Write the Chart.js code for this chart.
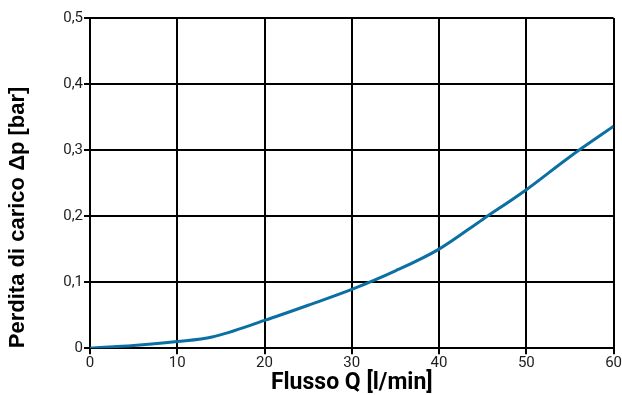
<!DOCTYPE html>
<html>
<head>
<meta charset="utf-8">
<script src="https://cdn.jsdelivr.net/npm/chart.js@4"></script>
<style>
  html, body { margin: 0; padding: 0; background: #fff; }
  #wrap { width: 622px; height: 395px; }
</style>
</head>
<body>
<div id="wrap"><canvas id="chart"></canvas></div>
<script>
// flow [l/min] vs pressure drop [bar]
const flow = [0, 5, 10, 14, 20, 25, 30, 35, 40, 45, 50, 55, 60];
const pressureDrop = [0, 0.004, 0.01, 0.017, 0.042, 0.065, 0.089, 0.117, 0.15, 0.195, 0.24, 0.29, 0.336];
const yTickLabels = ['0', '0,1', '0,2', '0,3', '0,4', '0,5'];

const points = flow.map((x, i) => ({ x: x, y: pressureDrop[i] }));

new Chart(document.getElementById('chart').getContext('2d'), {
    type: 'line',
    data: {
        datasets: [{
            data: points,
            borderColor: '#0b6fa4',
            borderWidth: 3,
            pointRadius: 0,
            cubicInterpolationMode: 'monotone',
            fill: false
        }]
    },
    options: {
        responsive: true,
        maintainAspectRatio: false,
        animation: false,
        layout: { padding: { top: 18, right: 4, left: 3, bottom: 1 } },
        plugins: {
            legend: { display: false },
            tooltip: { enabled: false }
        },
        scales: {
            x: {
                type: 'linear',
                min: 0,
                max: 60,
                ticks: {
                    stepSize: 10,
                    color: '#1d1d1b',
                    padding: 0,
                    font: { family: 'Roboto', size: 15 }
                },
                grid: { color: '#000', lineWidth: 2, tickLength: 6 },
                border: { color: '#000', width: 2 },
                title: {
                    display: true,
                    text: 'Flusso Q [l/min]',
                    color: '#000',
                    padding: { top: 0, bottom: 0 },
                    font: { family: 'Roboto', size: 23, weight: 'bold', lineHeight: 0.95 }
                }
            },
            y: {
                min: 0,
                max: 0.5,
                ticks: {
                    stepSize: 0.1,
                    color: '#1d1d1b',
                    padding: 1,
                    font: { family: 'Roboto', size: 15 },
                    callback: (value, index) => yTickLabels[index]
                },
                grid: { color: '#000', lineWidth: 2, tickLength: 6 },
                border: { color: '#000', width: 2 },
                title: {
                    display: true,
                    text: 'Perdita di carico Δp [bar]',
                    align: 'start',
                    color: '#000',
                    padding: { top: 3, bottom: 32 },
                    font: { family: 'Liberation Sans', size: 22, weight: 'bold', lineHeight: 1.1 }
                }
            }
        }
    }
});
</script>
</body>
</html>
